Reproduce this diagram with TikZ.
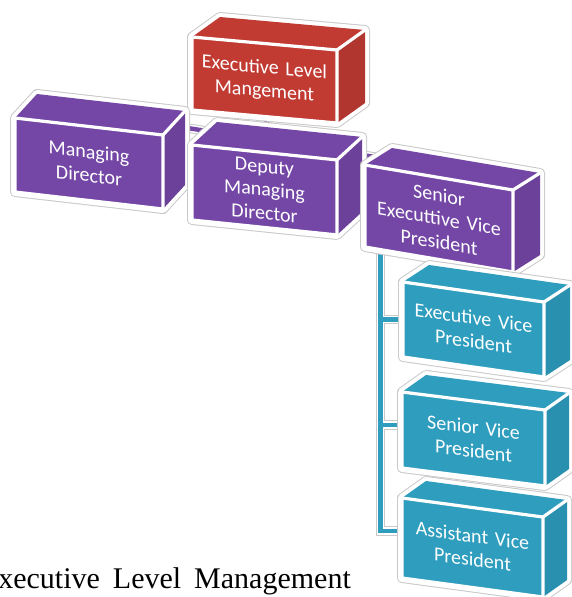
\documentclass[tikz,border=0pt]{standalone}
\usepackage{fontspec}
\newfontfamily\boxfont{Carlito}
\newfontfamily\capfont{Liberation Serif}
\usetikzlibrary{calc}

\pgfdeclarelayer{links}
\pgfsetlayers{links,main}

\definecolor{execred}{HTML}{C13B33}
\definecolor{mgmtpurple}{HTML}{7447A6}
\definecolor{vpteal}{HTML}{2E9DBE}
\definecolor{haloline}{HTML}{C9C9C9}

\tikzset{
  halo gray/.style={draw=haloline, line width=10pt, line join=round},
  halo white/.style={draw=white, line width=8pt, line join=round},
  edge white/.style={draw=white, line width=3.2pt, line cap=round},
  face label/.style={draw=white, line width=3.2pt, inner sep=0pt, text=white,
    font=\boxfont\fontsize{20}{23.5}\selectfont, align=center, text width=130pt},
  link/.style={draw=#1, line width=4.5pt,
    preaction={draw=haloline, line width=9.5pt},
    preaction={draw=white, line width=7.5pt}},
}

% 3-D box: name, front top-left x, y, width, height, slope of the top edge,
% depth vector, colour, label
\newcommand\cubebox[9]{%
  \pgfmathsetmacro\cbdrop{#6*#4}%
  \coordinate (#1-tl) at (#2,#3);
  \coordinate (#1-tr) at (#2+#4,#3+\cbdrop);
  \coordinate (#1-bl) at (#2,#3+#5);
  \coordinate (#1-br) at (#2+#4,#3+#5+\cbdrop);
  \coordinate (#1-top) at ($(#1-tl)!0.5!(#1-tr)+0.5*(#7)$);
  \draw[halo gray] (#1-bl) -- (#1-tl) -- ($(#1-tl)+(#7)$) -- ($(#1-tr)+(#7)$)
    -- ($(#1-br)+(#7)$) -- (#1-br) -- cycle;
  \draw[halo white] (#1-bl) -- (#1-tl) -- ($(#1-tl)+(#7)$) -- ($(#1-tr)+(#7)$)
    -- ($(#1-br)+(#7)$) -- (#1-br) -- cycle;
  \fill[#8] (#1-tl) -- ($(#1-tl)+(#7)$) -- ($(#1-tr)+(#7)$) -- (#1-tr) -- cycle;
  \fill[#8!92!black] (#1-tr) -- ($(#1-tr)+(#7)$) -- ($(#1-br)+(#7)$) -- (#1-br) -- cycle;
  \node[face label, fill=#8, minimum width=#4pt, minimum height=#5pt, yslant=-#6]
    (#1) at ($(#1-tl)!0.5!(#1-br)$) {#9};
  \draw[edge white] (#1-tr) -- ($(#1-tr)+(#7)$);
}

\begin{document}
\begin{tikzpicture}[x=1pt, y=-1pt]
  \useasboundingbox (0,0) rectangle (572,597);
  \clip (0,0) rectangle (572,597);

  % top of the hierarchy
  \cubebox{exec}{192}{37}{145}{73}{0.0897}{28,-20}{execred}{Executive Level\\Mangement}

  % second level
  \cubebox{md}{15}{118}{148}{74}{0.115}{22,-24}{mgmtpurple}{Managing\\Director}
  \cubebox{dmd}{192}{145}{145}{75}{0.103}{25,-23}{mgmtpurple}{Deputy\\Managing\\Director}
  \cubebox{sevp}{365}{165}{148}{82}{0.169}{27,-17}{mgmtpurple}{Senior\\Executtive Vice\\President}

  % vice presidents
  \cubebox{evp}{403}{282}{141}{75}{0.142}{26,-17}{vpteal}{Executive Vice\\President}
  \cubebox{svp}{402}{392}{143}{76}{0.126}{24,-17}{vpteal}{Senior Vice\\President}
  \cubebox{avp}{402}{498}{141}{80}{0.135}{24,-17}{vpteal}{Assistant Vice\\President}

  % connectors, drawn behind the boxes
  \begin{pgfonlayer}{links}
    \coordinate (trunk) at ([xshift=17pt]sevp.south west);
    \draw[link=mgmtpurple] (exec.south) -- (dmd-top)
                           (md-top) -- (sevp-top);
    \draw[link=vpteal] (trunk) |- (evp.west)
                       (trunk) |- ([yshift=5pt]svp.west)
                       (trunk) |- ([yshift=7pt]avp.west);
  \end{pgfonlayer}

  % caption line below the chart
  \node[font=\capfont\fontsize{30}{35}\selectfont, anchor=base east, inner sep=0pt]
    (caption) at (351,588) {\spaceskip=13pt Executive Level Management};
\end{tikzpicture}
\end{document}
